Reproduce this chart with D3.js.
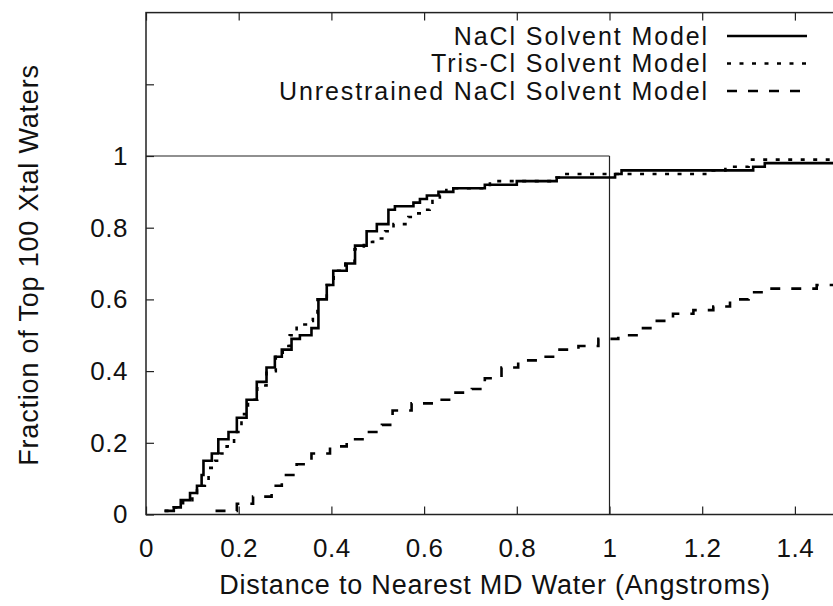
<!DOCTYPE html>
<meta charset="utf-8">
<style>
body { margin: 0; background: #fff; }
svg { font-family: "Liberation Sans", Arial, Helvetica, sans-serif; }
.curve { fill: none; stroke: #000; stroke-width: 2.6; }
.frame { fill: none; stroke: #222; stroke-width: 1.5; }
.guide { stroke: #222; stroke-width: 1.2; }
.axis text { font-size: 26px; letter-spacing: 0.5px; fill: #111; }
.axis line { stroke: #222; stroke-width: 1.2; }
.title { font-size: 27px; letter-spacing: 0.8px; fill: #111; }
.legend text { font-size: 25px; letter-spacing: 1.9px; fill: #111; }
</style>
<svg width="833" height="606"></svg>
<script src="https://d3js.org/d3.v7.min.js"></script>
<script>

// step points (distance, fraction)
var naclX = [0.04, 0.06, 0.075, 0.095, 0.11, 0.12, 0.124, 0.142, 0.156, 0.178, 0.196, 0.217, 0.239, 0.26, 0.278, 0.293, 0.314, 0.332, 0.357, 0.372, 0.39, 0.404, 0.433, 0.451, 0.476, 0.498, 0.523, 0.537, 0.577, 0.591, 0.606, 0.631, 0.663, 0.731, 0.80, 0.886, 1.012, 1.026, 1.31, 1.335, 1.5];
var naclY = [0.01, 0.02, 0.04, 0.06, 0.08, 0.11, 0.15, 0.17, 0.21, 0.23, 0.27, 0.32, 0.37, 0.41, 0.44, 0.46, 0.49, 0.50, 0.52, 0.60, 0.64, 0.68, 0.70, 0.75, 0.79, 0.81, 0.85, 0.86, 0.87, 0.88, 0.89, 0.90, 0.91, 0.92, 0.93, 0.94, 0.95, 0.96, 0.97, 0.98, 0.98];

var trisX = [0.04, 0.06, 0.08, 0.10, 0.11, 0.127, 0.135, 0.149, 0.16, 0.174, 0.19, 0.206, 0.22, 0.24, 0.26, 0.28, 0.295, 0.31, 0.325, 0.345, 0.36, 0.37, 0.39, 0.405, 0.43, 0.45, 0.47, 0.49, 0.505, 0.516, 0.534, 0.566, 0.584, 0.601, 0.612, 0.618, 0.634, 0.648, 0.742, 0.886, 0.896, 1.217, 1.25, 1.30, 1.5];
var trisY = [0.01, 0.02, 0.04, 0.06, 0.08, 0.10, 0.13, 0.15, 0.17, 0.19, 0.23, 0.28, 0.32, 0.36, 0.40, 0.44, 0.47, 0.50, 0.53, 0.54, 0.56, 0.60, 0.64, 0.68, 0.70, 0.74, 0.76, 0.77, 0.77, 0.79, 0.81, 0.83, 0.84, 0.85, 0.87, 0.88, 0.89, 0.91, 0.93, 0.94, 0.95, 0.96, 0.97, 0.99, 0.99];

var unresX = [0.15, 0.196, 0.231, 0.271, 0.293, 0.325, 0.357, 0.397, 0.433, 0.472, 0.509, 0.532, 0.573, 0.62, 0.663, 0.703, 0.731, 0.767, 0.803, 0.85, 0.886, 0.933, 0.976, 1.019, 1.062, 1.094, 1.137, 1.181, 1.224, 1.26, 1.30, 1.346, 1.447, 1.5];
var unresY = [0.01, 0.03, 0.05, 0.08, 0.11, 0.14, 0.17, 0.19, 0.21, 0.23, 0.25, 0.29, 0.31, 0.32, 0.34, 0.35, 0.38, 0.41, 0.43, 0.44, 0.46, 0.47, 0.49, 0.50, 0.52, 0.54, 0.56, 0.57, 0.58, 0.60, 0.62, 0.63, 0.64, 0.64];

var seriesNames = ["NaCl Solvent Model", "Tris-Cl Solvent Model", "Unrestrained NaCl Solvent Model"];
var xTicks = [0, 0.2, 0.4, 0.6, 0.8, 1, 1.2, 1.4];
var yTicks = [0, 0.2, 0.4, 0.6, 0.8, 1, 1.2];
var yLabelMax = 1;

var svg = d3.select("svg");

var x = d3.scaleLinear().domain([0, 1.5]).range([146, 841.25]);
var y = d3.scaleLinear().domain([0, 1.4]).range([514.5, 12.6]);

var dashes = [null, "4,8.5", "10,11"];

function pts(xs, ys) {
  return xs.map(function(d, i) { return [d, ys[i]]; });
}
var series = [pts(naclX, naclY), pts(trisX, trisY), pts(unresX, unresY)];

var line = d3.line()
    .x(function(d) { return x(d[0]); })
    .y(function(d) { return y(d[1]); })
    .curve(d3.curveStepAfter);

svg.append("clipPath").attr("id", "clip")
  .append("rect")
    .attr("x", x(0)).attr("y", y(1.4))
    .attr("width", x(1.5) - x(0)).attr("height", y(0) - y(1.4));

// axes, ticks pointing inward
svg.append("g")
    .attr("class", "axis")
    .attr("transform", "translate(0," + y(0) + ")")
    .call(d3.axisBottom(x).tickValues(xTicks).tickSizeInner(-8).tickSizeOuter(0).tickPadding(24)
      .tickFormat(function(d) { return String(d); }))
    .call(function(g) { g.select(".domain").remove(); });

svg.append("g")
    .attr("class", "axis")
    .attr("transform", "translate(0," + y(1.4) + ")")
    .call(d3.axisTop(x).tickValues(xTicks).tickSizeInner(-8).tickSizeOuter(0).tickFormat(""))
    .call(function(g) { g.select(".domain").remove(); });

svg.append("g")
    .attr("class", "axis")
    .attr("transform", "translate(" + x(0) + ",0)")
    .call(d3.axisLeft(y).tickValues(yTicks).tickSizeInner(-8).tickSizeOuter(0).tickPadding(18)
      .tickFormat(function(d) { return d <= yLabelMax ? String(d) : ""; }))
    .call(function(g) { g.select(".domain").remove(); });

svg.append("rect")
    .attr("class", "frame")
    .attr("x", x(0)).attr("y", y(1.4))
    .attr("width", x(1.5) - x(0)).attr("height", y(0) - y(1.4));

// unit box at x = 1, y = 1
svg.append("line").attr("class", "guide")
    .attr("x1", x(0)).attr("x2", x(1)).attr("y1", y(1)).attr("y2", y(1));
svg.append("line").attr("class", "guide")
    .attr("x1", x(1)).attr("x2", x(1)).attr("y1", y(0)).attr("y2", y(1));

svg.append("g").attr("clip-path", "url(#clip)")
  .selectAll("path")
  .data(series)
  .enter().append("path")
    .attr("class", "curve")
    .attr("stroke-dasharray", function(d, i) { return dashes[i]; })
    .attr("d", line);

// legend
var legend = svg.append("g").attr("class", "legend")
  .selectAll("g")
  .data(seriesNames)
  .enter().append("g")
    .attr("transform", function(d, i) { return "translate(0," + (36 + i * 27.5) + ")"; });

legend.append("text")
    .attr("x", 709)
    .attr("dy", "0.35em")
    .attr("text-anchor", "end")
    .text(function(d) { return d; });

legend.append("line")
    .attr("class", "curve")
    .attr("x1", 727).attr("x2", 807)
    .attr("stroke-dasharray", function(d, i) { return dashes[i]; });

svg.append("text")
    .attr("class", "title")
    .attr("x", 495).attr("y", 594)
    .attr("text-anchor", "middle")
    .text("Distance to Nearest MD Water (Angstroms)");

svg.append("text")
    .attr("class", "title")
    .attr("transform", "translate(38,265) rotate(-90)")
    .attr("text-anchor", "middle")
    .text("Fraction of Top 100 Xtal Waters");

</script>
